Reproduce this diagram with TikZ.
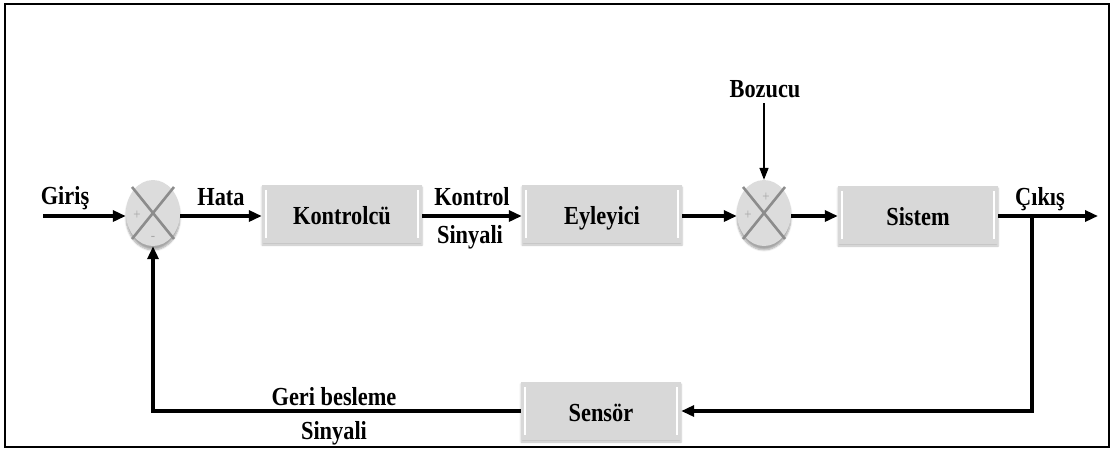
\documentclass[tikz,border=0pt]{standalone}
\usepackage{fontspec}
\setmainfont{Liberation Serif}[FakeStretch=0.86]
\usetikzlibrary{arrows.meta,shadows.blur,shapes.geometric}

\definecolor{blockfill}{HTML}{D8D8D8}
\definecolor{sumfill}{HTML}{DCDCDC}
\definecolor{crossgray}{HTML}{8C8C8C}
\definecolor{signgray}{HTML}{A8A8A8}

\tikzset{
  lbl/.style={font=\bfseries\fontsize{26}{30}\selectfont, inner sep=0pt, anchor=base},
  block/.style={fill=blockfill, draw=none, minimum width=160pt, minimum height=58pt,
    text height=21pt, text depth=0pt,
    font=\bfseries\fontsize{26}{30}\selectfont,
    blur shadow={shadow xshift=0pt, shadow yshift=-2pt, shadow opacity=25, shadow blur steps=5},
    path picture={
      \draw[white, line width=1.2pt]
        ([xshift=4pt,yshift=-5pt]path picture bounding box.north west) --
        ([xshift=4pt,yshift=5pt]path picture bounding box.south west);
      \draw[white, line width=1.2pt]
        ([xshift=-4pt,yshift=-5pt]path picture bounding box.north east) --
        ([xshift=-4pt,yshift=5pt]path picture bounding box.south east);
    }},
  sumnode/.style={ellipse, fill=sumfill, draw=none, minimum width=54pt, minimum height=66pt,
    inner sep=0pt,
    blur shadow={shadow xshift=0pt, shadow yshift=-4pt, shadow opacity=35, shadow blur steps=6}},
  xline/.style={draw=crossgray, line width=2.6pt},
  sgn/.style={text=signgray, font=\fontsize{15}{15}\selectfont, inner sep=0pt},
  sig/.style={draw=black, line width=3.6pt, -{Triangle[length=13pt,width=11pt]}},
  thinsig/.style={draw=black, line width=1.6pt, -{Triangle[length=12pt,width=9pt]}},
}

\begin{document}
\begin{tikzpicture}[x=1pt, y=-1pt]
  \useasboundingbox (0,0) rectangle (1113,451);
  \draw[line width=2pt] (5,4) rectangle (1109,447);

  % summing junctions
  \node[sumnode] (s1) at (153,213) {};
  \node[sumnode] (s2) at (764,213) {};
  \foreach \s in {s1,s2}{
    \draw[xline] ([shift={(-21pt,26pt)}]\s.center) -- ([shift={(21pt,-26pt)}]\s.center);
    \draw[xline] ([shift={(21pt,26pt)}]\s.center) -- ([shift={(-21pt,-26pt)}]\s.center);
  }
  \node[sgn] (p1) at (137,215) {+};
  \node[sgn] (m1) at (153,238) {-};
  \node[sgn] (p2) at (748,215) {+};
  \node[sgn] (p3) at (766,197) {+};

  % blocks
  \node[block] (ctrl) at (342,214) {Kontrolcü};
  \node[block] (act)  at (602,214) {Eyleyici};
  \node[block] (sys)  at (918,215) {Sistem};
  \node[block] (sens) at (601,411) {Sensör};

  % free ends and branch point
  \coordinate (in)  at (43,216);
  \coordinate (out) at (1098,216);
  \coordinate (br)  at (1032,216);
  \coordinate (dist) at (764,103);

  % forward path
  \draw[sig] (in) -- (s1.west |- in);
  \draw[sig] (s1.east |- in) -- (ctrl.west |- in);
  \draw[sig] (ctrl.east |- in) -- (act.west |- in);
  \draw[sig] (act.east |- in) -- (s2.west |- in);
  \draw[sig] (s2.east |- in) -- (sys.west |- in);
  \draw[sig] (sys.east |- in) -- (out);
  \draw[thinsig] (dist) -- (s2.north);

  % feedback path
  \draw[sig] (br) |- (sens.east);
  \draw[sig] (sens.west) -| (s1.south);

  % labels
  \node[lbl] (tgiris) at (65,204) {Giriş};
  \node[lbl] (thata)  at (221,205) {Hata};
  \node[lbl] (tkon)   at (472,205) {Kontrol};
  \node[lbl] (tsin1)  at (470,243) {Sinyali};
  \node[lbl] (tboz)   at (765,97)  {Bozucu};
  \node[lbl] (tcik)   at (1040,205) {Çıkış};
  \node[lbl] (tgeri)  at (334,405) {Geri besleme};
  \node[lbl] (tsin2)  at (334,439) {Sinyali};
\end{tikzpicture}
\end{document}
